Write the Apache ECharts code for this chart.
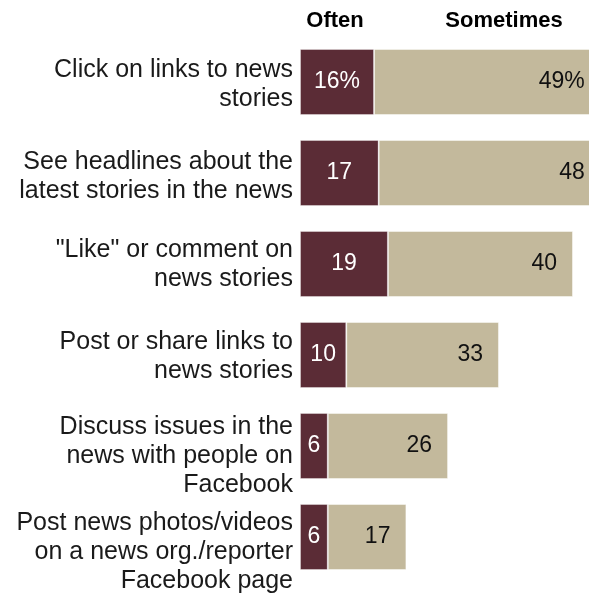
<!DOCTYPE html>
<html><head><meta charset="utf-8">
<script src="https://cdn.jsdelivr.net/npm/echarts@6/dist/echarts.min.js"></script>
<style>html,body{margin:0;padding:0;background:#fff}#c{width:589px;height:596px}</style>
</head><body><div id="c"></div>
<script>
const categories = [
  "Click on links to news\nstories",
  "See headlines about the\nlatest stories in the news",
  "\"Like\" or comment on\nnews stories",
  "Post or share links to\nnews stories",
  "Discuss issues in the\nnews with people on\nFacebook",
  "Post news photos/videos\non a news org./reporter\nFacebook page"
];
const often = [16, 17, 19, 10, 6, 6];
const sometimes = [49, 48, 40, 33, 26, 17];
const oftenLabels = ["16%", "17", "19", "10", "6", "6"];
const sometimesLabels = ["49%", "48", "40", "33", "26", "17"];
const seriesNames = ["Often", "Sometimes"];

// downward nudge (px) of each category label block
const labelShift = [3, 4, 1, 2, 10, 15];

const FONT = "Liberation Sans, Arial, sans-serif";
const chart = echarts.init(document.getElementById('c'), null, {renderer: 'canvas'});
chart.setOption({
  animation: false,
  grid: {left: 300, top: 36.5, right: 0, height: 546},
  xAxis: {type: 'value', min: 0, max: 62.46, show: false},
  yAxis: {
    type: 'category', inverse: true, data: categories,
    axisLine: {show: false}, axisTick: {show: false}, axisLabel: {show: false}
  },
  series: [
    {
      name: seriesNames[0], type: 'bar', stack: 'a', barWidth: 66, data: often, clip: false,
      itemStyle: {color: '#5b2c36', borderColor: 'rgba(255,255,255,0.35)', borderWidth: 1},
      label: {show: true, position: 'inside', color: '#fff', fontFamily: FONT, fontSize: 23,
        formatter: p => oftenLabels[p.dataIndex]}
    },
    {
      name: seriesNames[1], type: 'bar', stack: 'a', barWidth: 66, data: sometimes, clip: false,
      itemStyle: {color: '#c3b99c', borderColor: 'rgba(255,255,255,0.45)', borderWidth: 1},
      label: {show: true, position: 'insideRight', distance: 16, color: '#111', fontFamily: FONT, fontSize: 23,
        formatter: p => sometimesLabels[p.dataIndex]}
    }
  ]
});

const gridLeft = chart.convertToPixel({xAxisIndex: 0}, 0);
const catLabels = categories.map((c, i) => ({
  type: 'text',
  x: gridLeft - 7,
  y: chart.convertToPixel({yAxisIndex: 0}, i) + labelShift[i],
  style: {text: c, font: '25px ' + FONT, lineHeight: 29, fill: '#1a1a1a', textAlign: 'right', textVerticalAlign: 'middle'}
}));
chart.setOption({
  graphic: [
    {type: 'text', x: 335, y: 21, style: {text: seriesNames[0], font: 'bold 22px ' + FONT, fill: '#000', textAlign: 'center', textVerticalAlign: 'middle'}},
    {type: 'text', x: 504, y: 21, style: {text: seriesNames[1], font: 'bold 22px ' + FONT, fill: '#000', textAlign: 'center', textVerticalAlign: 'middle'}}
  ].concat(catLabels)
});
</script></body></html>
